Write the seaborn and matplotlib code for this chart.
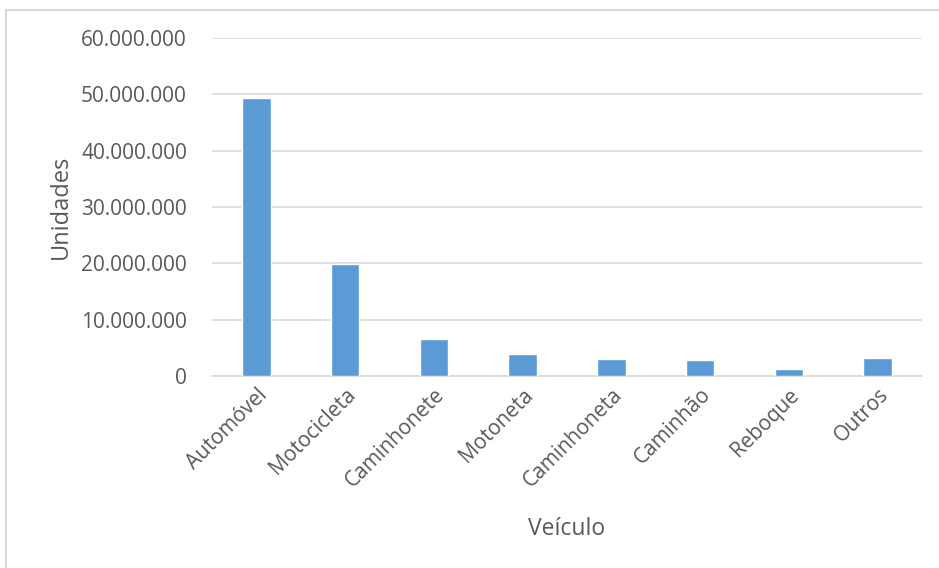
import matplotlib
matplotlib.use("Agg")
import matplotlib.pyplot as plt
import matplotlib.ticker as mticker
from matplotlib.patches import Rectangle
import seaborn as sns
import pandas as pd

categorias = ["Automóvel", "Motocicleta", "Caminhonete", "Motoneta",
              "Caminhoneta", "Caminhão", "Reboque", "Outros"]
unidades = [49_300_000, 19_850_000, 6_500_000, 3_850_000,
            2_960_000, 2_790_000, 1_240_000, 3_200_000]
yticks = [0, 10_000_000, 20_000_000, 30_000_000, 40_000_000, 50_000_000, 60_000_000]

df = pd.DataFrame({"Veículo": categorias, "Unidades": unidades})

sns.set_theme(style="white")
plt.rcParams["font.family"] = ["Open Sans", "DejaVu Sans"]

texto = "#595959"
fig = plt.figure(figsize=(9.39, 5.68), dpi=100)
ax = fig.add_axes([212 / 939, 1 - 376 / 568, 710 / 939, 338 / 568])

sns.barplot(data=df, x="Veículo", y="Unidades", color="#5B9BD5",
            width=0.32, saturation=1, ax=ax, zorder=3)

ax.set_ylim(0, 60_000_000)
ax.set_xlim(-0.5, len(categorias) - 0.5)
ax.set_yticks(yticks)
ax.yaxis.set_major_formatter(
    mticker.FuncFormatter(lambda v, _: f"{int(v):,}".replace(",", ".")))
ax.grid(axis="y", color="#D9D9D9", linewidth=1.2, zorder=0)
for s in ["top", "right", "left"]:
    ax.spines[s].set_visible(False)
ax.spines["bottom"].set_color("#D9D9D9")
ax.spines["bottom"].set_linewidth(1.2)

ax.tick_params(axis="y", labelsize=15, labelcolor=texto, length=0, pad=18)
ax.tick_params(axis="x", labelsize=15, labelcolor=texto, length=0, pad=6)
plt.setp(ax.get_xticklabels(), rotation=45, ha="right", rotation_mode="anchor")

ax.set_xlabel("Veículo", fontsize=16.5, color=texto, labelpad=18)
ax.set_ylabel("Unidades", fontsize=17, color=texto, labelpad=6)

fig.patches.append(Rectangle((6 / 939, -0.1), 1.2, 1 - 10 / 568 + 0.1,
                             transform=fig.transFigure, fill=False,
                             edgecolor="#D9D9D9", linewidth=1.5))

fig.savefig("out.png", dpi=100, facecolor="white")
